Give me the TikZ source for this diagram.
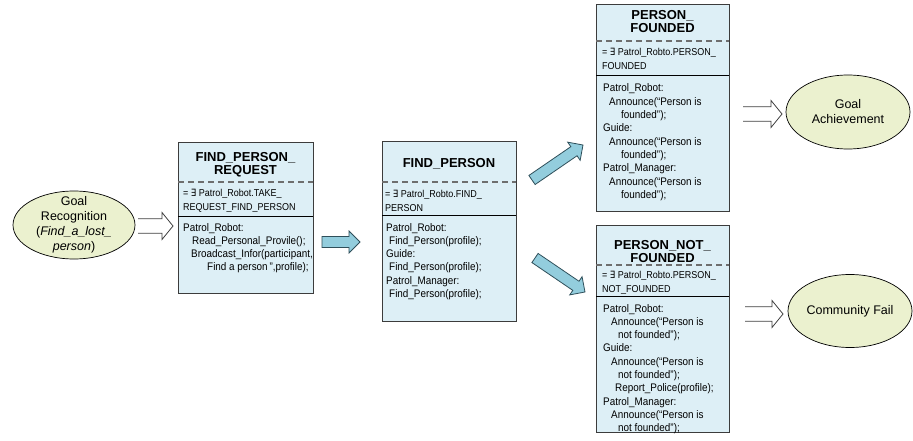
\documentclass[tikz,border=0pt]{standalone}
\usepackage{fontspec}
\setmainfont{Liberation Sans}
\newfontfamily\narrowf{Liberation Sans}[FakeStretch=0.9]
\newfontfamily\exfont{DejaVu Sans}[FakeStretch=0.85]
\usetikzlibrary{calc,shapes.geometric}

\definecolor{boxfill}{HTML}{DDEFF6}
\definecolor{boxdraw}{HTML}{3C3C3C}
\definecolor{ellfill}{HTML}{EBF1CF}
\definecolor{arrfill}{HTML}{93CDDD}
\definecolor{arrdraw}{HTML}{2F4F5A}
\definecolor{dashc}{HTML}{6E6E6E}

\tikzset{
 umlbox/.style={draw=boxdraw, fill=boxfill, line width=0.9pt, rectangle, inner sep=0pt, outer sep=0pt, anchor=north west},
 goalell/.style={ellipse, draw=black, fill=ellfill, line width=0.7pt, inner sep=0pt, outer sep=0pt},
 goaltext/.style={font=\fontsize{12.5}{15}\selectfont, align=center, inner sep=0pt},
 boxtitle/.style={font=\fontsize{13}{13}\selectfont\bfseries, align=center, inner sep=0pt, anchor=base},
 boxslot/.style={font=\narrowf\fontsize{10}{13.5}\selectfont, align=left, inner sep=0pt, anchor=base west},
 boxbody/.style={font=\narrowf\fontsize{11}{13.3}\selectfont, align=left, inner sep=0pt, anchor=base west},
 dashsep/.style={draw=dashc, dash pattern=on 6pt off 4pt, line width=1.1pt},
 solidsep/.style={draw=black, line width=0.7pt},
 hollowarr/.style={draw=black!75, line width=0.8pt, line join=miter},
 blockarr/.style={draw=arrdraw, fill=arrfill, line width=0.8pt, line join=miter},
}

\newcommand\hollowarrow[2]{%
 \draw[hollowarr] let \p1=(#1), \p2=(#2) in
   (\x1,\y1+7.3pt) -- (\x2-11pt,\y1+7.3pt) -- (\x2-11pt,\y1+13.5pt) -- (\x2,\y1)
   -- (\x2-11pt,\y1-13.5pt) -- (\x2-11pt,\y1-7.3pt) -- (\x1,\y1-7.3pt);}

\newcommand\blockarrow[2]{%
 \draw[blockarr] let \p1=(#1), \p2=(#2), \n1={atan2(\y2-\y1,\x2-\x1)},
   \n2={veclen(\x2-\x1,\y2-\y1)} in
   [shift={(\p1)}, rotate=\n1] (0pt,5.5pt) -- (\n2-11pt,5.5pt) -- (\n2-11pt,11pt)
   -- (\n2,0pt) -- (\n2-11pt,-11pt) -- (\n2-11pt,-5.5pt) -- (0pt,-5.5pt) -- cycle;}

\begin{document}
\begin{tikzpicture}[x=1pt,y=-1pt]
\useasboundingbox (0,0) rectangle (913,441);
\fill[white] (0,0) rectangle (913,441);

% ---------- goal ellipses ----------
\node[goalell, minimum width=122pt, minimum height=68pt] (gr) at (74,225) {};
\node[goaltext] (grt) at (gr.center) {Goal\\Recognition\\(\textit{Find\_a\_lost\_}\\\textit{person})};

\node[goalell, minimum width=124pt, minimum height=74pt] (ga) at (848,112) {};
\node[goaltext] (gat) at (ga.center) {Goal\\Achievement};

\node[goalell, minimum width=124pt, minimum height=73pt] (cf) at (850,311) {};
\node[goaltext] (cft) at (cf.center) {Community Fail};

% ---------- box 1 ----------
\node[umlbox, minimum width=135pt, minimum height=151pt] (b1) at (178,142) {};
\draw[dashsep] ($(b1.north west)+(0,40)$) -- ($(b1.north east)+(0,40)$);
\draw[solidsep] ($(b1.north west)+(0,74)$) -- ($(b1.north east)+(0,74)$);
\node[boxtitle] (b1t) at ($(b1.north)+(0,32.6)$) {FIND\_PERSON\_\\REQUEST};
\node[boxslot] (b1s) at ($(b1.north west)+(5,68.1)$) {= {\exfont ∃} Patrol\_Robot.TAKE\_\\REQUEST\_FIND\_PERSON};
\node[boxbody] (b1b) at ($(b1.north west)+(5,128.9)$) {Patrol\_Robot:\\
\hspace*{9pt}Read\_Personal\_Provile();\\
\hspace*{8pt}Broadcast\_Infor(participant,\\
\hspace*{24pt}Find a person\,”,profile);};

% ---------- box 2 ----------
\node[umlbox, minimum width=134pt, minimum height=180pt] (b2) at (382,141) {};
\draw[dashsep] ($(b2.north west)+(0,41)$) -- ($(b2.north east)+(0,41)$);
\draw[solidsep] ($(b2.north west)+(0,74)$) -- ($(b2.north east)+(0,74)$);
\node[boxtitle] (b2t) at ($(b2.north)+(0,26.6)$) {FIND\_PERSON};
\node[boxslot] (b2s) at ($(b2.north west)+(3,70.1)$) {= {\exfont ∃} Patrol\_Robto.FIND\_\\PERSON};
\node[boxbody] (b2b) at ($(b2.north west)+(4,156.5)$) {Patrol\_Robot:\\
\hspace*{3pt}Find\_Person(profile);\\
Guide:\\
\hspace*{3pt}Find\_Person(profile);\\
Patrol\_Manager:\\
\hspace*{3pt}Find\_Person(profile);};

% ---------- box 3 ----------
\node[umlbox, minimum width=133pt, minimum height=207pt] (b3) at (596,4) {};
\draw[dashsep] ($(b3.north west)+(0,37)$) -- ($(b3.north east)+(0,37)$);
\draw[solidsep] ($(b3.north west)+(0,71)$) -- ($(b3.north east)+(0,71)$);
\node[boxtitle] (b3t) at ($(b3.north)+(0,28.6)$) {PERSON\_\\FOUNDED};
\node[boxslot] (b3s) at ($(b3.north west)+(6,65.1)$) {= {\exfont ∃} Patrol\_Robto.PERSON\_\\FOUNDED};
\node[boxbody] (b3b) at ($(b3.north west)+(7,194.4)$) {Patrol\_Robot:\\
\hspace*{6pt}Announce(“Person is\\
\hspace*{18pt}founded”);\\
Guide:\\
\hspace*{6pt}Announce(“Person is\\
\hspace*{18pt}founded”);\\
Patrol\_Manager:\\
\hspace*{6pt}Announce(“Person is\\
\hspace*{18pt}founded”);};

% ---------- box 4 ----------
\node[umlbox, minimum width=133pt, minimum height=207pt] (b4) at (596,225) {};
\draw[dashsep] ($(b4.north west)+(0,40)$) -- ($(b4.north east)+(0,40)$);
\draw[solidsep] ($(b4.north west)+(0,71)$) -- ($(b4.north east)+(0,71)$);
\node[boxtitle] (b4t) at ($(b4.north)+(0,37.6)$) {PERSON\_NOT\_\\FOUNDED};
\node[boxslot] (b4s) at ($(b4.north west)+(6,67.1)$) {= {\exfont ∃} Patrol\_Robto.PERSON\_\\NOT\_FOUNDED};
\node[boxbody] (b4b) at ($(b4.north west)+(7,206.7)$) {Patrol\_Robot:\\
\hspace*{8pt}Announce(“Person is\\
\hspace*{15pt}not founded”);\\
Guide:\\
\hspace*{8pt}Announce(“Person is\\
\hspace*{15pt}not founded”);\\
\hspace*{12pt}Report\_Police(profile);\\
Patrol\_Manager:\\
\hspace*{8pt}Announce(“Person is\\
\hspace*{15pt}not founded”);};

% ---------- hollow arrows ----------
\coordinate (h1s) at ($(gr.east)+(3,1)$);
\coordinate (h1e) at ($(b1.west |- gr.east)+(-5,1)$);
\hollowarrow{h1s}{h1e}
\coordinate (h2s) at ($(ga.west)+(-43,2)$);
\coordinate (h2e) at ($(ga.west)+(-4,2)$);
\hollowarrow{h2s}{h2e}
\coordinate (h3s) at ($(cf.west)+(-43,3)$);
\coordinate (h3e) at ($(cf.west)+(-5,3)$);
\hollowarrow{h3s}{h3e}

% ---------- block arrows ----------
\coordinate (a1s) at (322,242);
\coordinate (a1e) at (360,242);
\blockarrow{a1s}{a1e}
\coordinate (a2s) at (532,180);
\coordinate (a2e) at (583,145);
\blockarrow{a2s}{a2e}
\coordinate (a3s) at (535,258);
\coordinate (a3e) at (585,292);
\blockarrow{a3s}{a3e}
\end{tikzpicture}
\end{document}
